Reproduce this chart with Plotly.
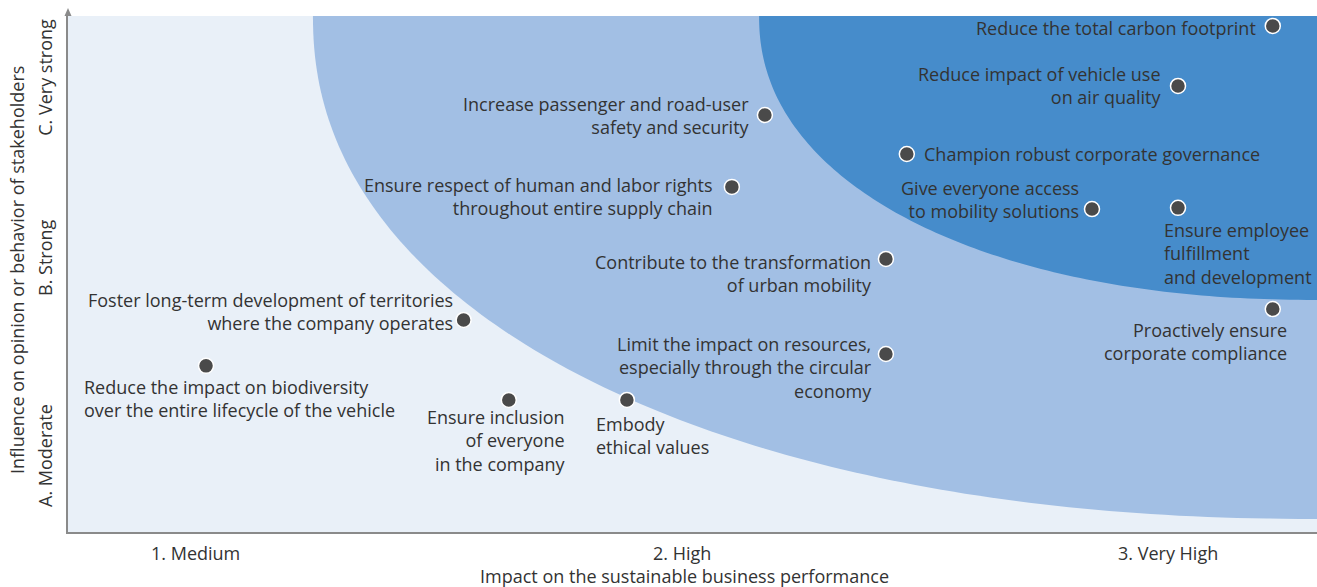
import numpy as np
import plotly.graph_objects as go

# ---------------- data ----------------
issues = [
    "Reduce the total carbon footprint",
    "Reduce impact of vehicle use<br>on air quality",
    "Increase passenger and road-user<br>safety and security",
    "Champion robust corporate governance",
    "Ensure respect of human and labor rights<br>throughout entire supply chain",
    "Give everyone access<br>to mobility solutions",
    "Ensure employee<br>fulfillment<br>and development",
    "Contribute to the transformation<br>of urban mobility",
    "Proactively ensure<br>corporate compliance",
    "Foster long-term development of territories<br>where the company operates",
    "Limit the impact on resources,<br>especially through the circular<br>economy",
    "Reduce the impact on biodiversity<br>over the entire lifecycle of the vehicle",
    "Ensure inclusion<br>of everyone<br>in the company",
    "Embody<br>ethical values",
]
impact = [3.216, 3.021, 2.171, 2.463, 2.103, 2.844, 3.021, 2.420, 3.216, 1.551, 2.420, 1.021, 1.644, 1.887]
influence = [3.172, 2.869, 2.722, 2.525, 2.359, 2.247, 2.253, 1.995, 1.742, 1.687, 1.515, 1.455, 1.283, 1.283]

x_tick_vals = [1, 2, 3]
x_tick_text = ["1. Medium", "2. High", "3. Very High"]
y_tick_vals = [1, 2, 2.91]
y_tick_text = ["A. Moderate", "B. Strong", "C. Very strong"]

x_title = "Impact on the sustainable business performance"
y_title = "Influence on opinion or behavior of stakeholders"

# ---------------- label placement (style) ----------------
# (xanchor, xshift px, yshift px)
placement = [
    ("right", -15, -2),
    ("right", -14, 0),
    ("right", -13, -0.5),
    ("left", 15, 0),
    ("right", -17, -10),
    ("right", -11, 10),
    ("left", -16, -45.5),
    ("right", -12, -14.5),
    ("right", 16, -32),
    ("right", -9, 8.5),
    ("right", -12, -13.5),
    ("left", -124, -32.5),
    ("right", 59, -40.5),
    ("left", -33, -36),
]

FONT = "Open Sans"
FS = 18
TXT = "#333333"
X_RANGE = [0.737, 3.307]
Y_RANGE = [0.616, 3.222]


def zone_path(a, b, n=2.15, m=120):
    """Super-ellipse quadrant anchored in the top-right corner of the plot."""
    cx, cy = X_RANGE[1], Y_RANGE[1]
    t = np.linspace(0, np.pi / 2, m)
    xs = cx - a * np.cos(t) ** (2 / n)
    ys = cy - b * np.sin(t) ** (2 / n)
    pts = [f"{x:.4f},{y:.4f}" for x, y in zip(xs, ys)]
    return "M " + " L ".join(pts) + f" L {cx},{cy} Z"


fig = go.Figure()

fig.add_trace(go.Scatter(
    x=impact, y=influence, mode="markers",
    marker=dict(size=15, color="#4a4a4a", line=dict(color="white", width=1.5)),
    hovertext=[s.replace("<br>", " ") for s in issues], hoverinfo="text",
    showlegend=False, cliponaxis=False,
))

shapes = [
    dict(type="path", xref="x", yref="y", path=zone_path(2.066, 2.540),
         fillcolor="#A2BFE4", line=dict(width=0), layer="below"),
    dict(type="path", xref="x", yref="y", path=zone_path(1.148, 1.434),
         fillcolor="#468CCB", line=dict(width=0), layer="below"),
    # arrow head on the y axis
    dict(type="path", xref="paper", yref="paper", xsizemode="pixel", ysizemode="pixel",
         xanchor=0, yanchor=1, path="M -3.5,0 L 3.5,0 L 0,8 Z",
         fillcolor="#8a8a8a", line=dict(width=0)),
]

annotations = []
for txt, xv, yv, (xa, xs, ys) in zip(issues, impact, influence, placement):
    annotations.append(dict(
        x=xv, y=yv, xref="x", yref="y", text=txt, showarrow=False,
        xanchor=xa, yanchor="middle", align=xa, xshift=xs, yshift=ys,
        font=dict(family=FONT, size=FS, color=TXT),
    ))

for v, t in zip(x_tick_vals, x_tick_text):
    annotations.append(dict(x=v, y=0, xref="x", yref="paper", text=t, showarrow=False,
                            yanchor="middle", yshift=-21, borderpad=0,
                            font=dict(family=FONT, size=FS, color=TXT)))
for v, t in zip(y_tick_vals, y_tick_text):
    annotations.append(dict(x=0, y=v, xref="paper", yref="y", text=t, showarrow=False,
                            textangle=-90, xanchor="center", xshift=-23,
                            font=dict(family=FONT, size=FS, color=TXT)))

annotations.append(dict(x=0.5, y=0, xref="paper", yref="paper", text=x_title, showarrow=False,
                        yanchor="middle", yshift=-44, xshift=-8, borderpad=0,
                        font=dict(family=FONT, size=FS, color=TXT)))
annotations.append(dict(x=0, y=0.5, xref="paper", yref="paper", text=y_title, showarrow=False,
                        textangle=-90, xanchor="center", xshift=-51, yshift=4,
                        font=dict(family=FONT, size=FS, color=TXT)))

fig.update_layout(
    width=1317, height=587,
    margin=dict(l=68, r=0, t=16, b=55),
    paper_bgcolor="white", plot_bgcolor="#E9F0F8",
    shapes=shapes, annotations=annotations,
    xaxis=dict(range=X_RANGE, showgrid=False, zeroline=False, showticklabels=False,
               ticks="", showline=True, linecolor="#8a8a8a", linewidth=2, fixedrange=True),
    yaxis=dict(range=Y_RANGE, showgrid=False, zeroline=False, showticklabels=False,
               ticks="", showline=True, linecolor="#8a8a8a", linewidth=2, fixedrange=True),
    font=dict(family=FONT, color=TXT),
)

fig.write_html("out.html", config={"displayModeBar": False},
               post_script="document.body.style.margin='0';document.body.style.overflow='hidden';")
